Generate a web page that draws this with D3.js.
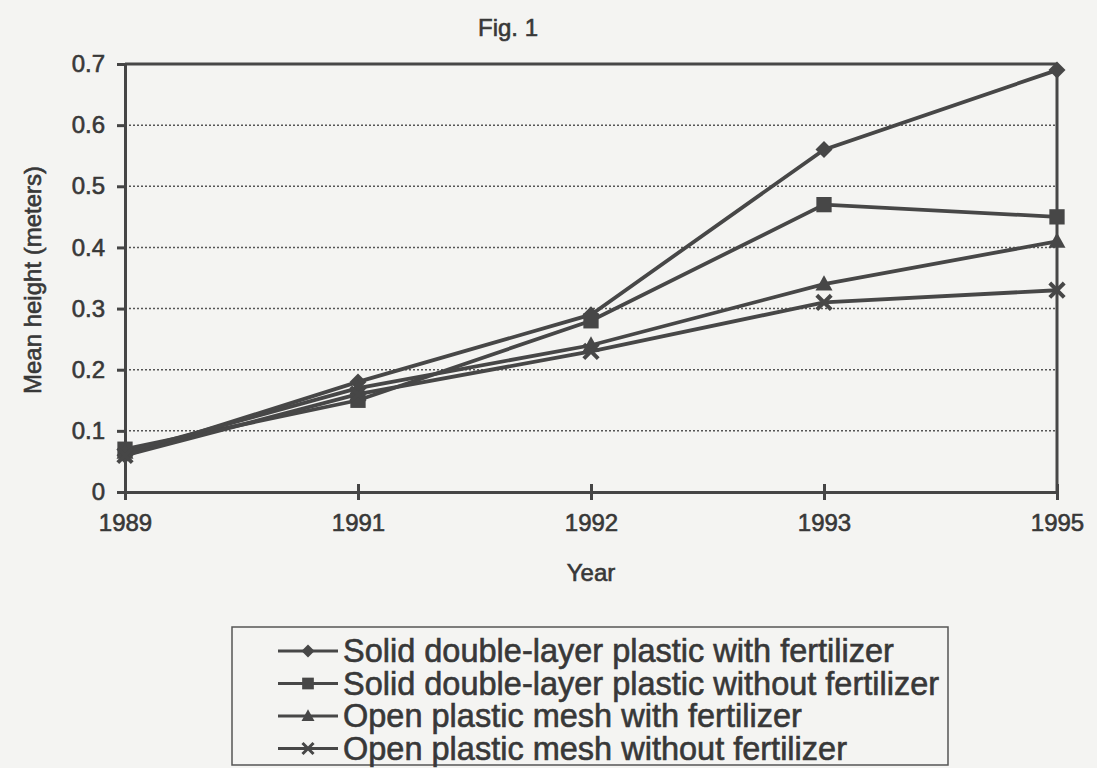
<!DOCTYPE html>
<html>
<head>
<meta charset="utf-8">
<script src="https://cdn.jsdelivr.net/npm/d3@7"></script>
<style>
  body { margin: 0; background: #f4f4f2; }
  svg { font-family: "Liberation Sans", Arial, sans-serif; }
  .axis path, .axis line { stroke: #454545; }
  .axis text { fill: #383838; font-size: 24px; stroke: #383838; stroke-width: 0.6px; }
  .lbl { fill: #383838; stroke: #383838; stroke-width: 0.6px; }
</style>
</head>
<body>
<svg id="chart" width="1097" height="768"></svg>
<script>
const years = ["1989", "1991", "1992", "1993", "1995"];
const yTicks = [0, 0.1, 0.2, 0.3, 0.4, 0.5, 0.6, 0.7];
const seriesNames = [
  "Solid double-layer plastic with fertilizer",
  "Solid double-layer plastic without fertilizer",
  "Open plastic mesh with fertilizer",
  "Open plastic mesh without fertilizer"
];
const solidWithFert = [0.06, 0.18, 0.29, 0.56, 0.69];
const solidNoFert = [0.07, 0.15, 0.28, 0.47, 0.45];
const meshWithFert = [0.065, 0.17, 0.24, 0.34, 0.41];
const meshNoFert = [0.06, 0.16, 0.23, 0.31, 0.33];

const seriesValues = [solidWithFert, solidNoFert, meshWithFert, meshNoFert];
const symbols = ["diamond", "square", "triangle", "cross"];
const ink = "#474747";

const svg = d3.select("#chart");
const margin = { left: 125, right: 40, top: 64, bottom: 276 };
const width = 1097 - margin.left - margin.right;
const height = 768 - margin.top - margin.bottom;

const chart = svg.append("g")
  .attr("transform", "translate(" + margin.left + "," + margin.top + ")");

const xScale = d3.scalePoint().domain(years).range([0, width]);
const yScale = d3.scaleLinear().domain([0, 0.7]).range([height, 0]);

// dotted gridlines
chart.selectAll(".grid")
  .data(yTicks.filter(d => d > 0 && d < 0.7))
  .join("line")
  .attr("class", "grid")
  .attr("x1", 0).attr("x2", width)
  .attr("y1", d => yScale(d)).attr("y2", d => yScale(d))
  .attr("stroke", "#555")
  .attr("stroke-width", 1.5)
  .attr("stroke-dasharray", "2,2");

// frame top and right
chart.append("line").attr("x1", 0).attr("x2", width).attr("y1", 0).attr("y2", 0)
  .attr("stroke", ink).attr("stroke-width", 3);
chart.append("line").attr("x1", width).attr("x2", width).attr("y1", 0).attr("y2", height)
  .attr("stroke", ink).attr("stroke-width", 3);

const xAxis = chart.append("g")
  .attr("class", "axis")
  .attr("transform", "translate(0," + height + ")")
  .call(d3.axisBottom(xScale).tickSizeInner(8).tickSizeOuter(0).tickPadding(14));

const yAxis = chart.append("g")
  .attr("class", "axis")
  .call(d3.axisLeft(yScale).tickValues(yTicks)
    .tickFormat(d => d === 0 ? "0" : d3.format(".1f")(d))
    .tickSizeInner(8).tickSizeOuter(0).tickPadding(12));

xAxis.selectAll("path, line").attr("stroke-width", 3);
yAxis.selectAll("path, line").attr("stroke-width", 3);
xAxis.selectAll(".tick line").attr("y1", -8).attr("y2", 8);

// lines
const line = d3.line().x((d, i) => xScale(years[i])).y(d => yScale(d));

function symbolPath(kind, r) {
  if (kind === "diamond") return `M0,${-r}L${r},0L0,${r}L${-r},0Z`;
  if (kind === "square") return `M${-r * 0.9},${-r * 0.9}H${r * 0.9}V${r * 0.9}H${-r * 0.9}Z`;
  if (kind === "triangle") return `M0,${-r * 1.05}L${r},${r * 0.75}L${-r},${r * 0.75}Z`;
  const c = r * 0.85;
  return `M${-c},${-c}L${c},${c}M${-c},${c}L${c},${-c}`;
}

seriesValues.forEach((vals, si) => {
  chart.append("path")
    .datum(vals)
    .attr("fill", "none")
    .attr("stroke", ink)
    .attr("stroke-width", 3.8)
    .attr("d", line);

  chart.selectAll(".pt" + si)
    .data(vals)
    .join("path")
    .attr("class", "pt" + si)
    .attr("transform", (d, i) => "translate(" + xScale(years[i]) + "," + yScale(d) + ")")
    .attr("d", symbolPath(symbols[si], 8.5))
    .attr("fill", ink)
    .attr("stroke", symbols[si] === "cross" ? ink : "none")
    .attr("stroke-width", symbols[si] === "cross" ? 4 : 0);
});

// titles
svg.append("text").attr("class", "lbl").attr("x", 508).attr("y", 36).attr("text-anchor", "middle")
  .attr("font-size", 24).text("Fig. 1");
svg.append("text").attr("class", "lbl").attr("x", 591).attr("y", 581).attr("text-anchor", "middle")
  .attr("font-size", 24).text("Year");
svg.append("text").attr("class", "lbl")
  .attr("transform", "translate(41," + 280 + ") rotate(-90)")
  .attr("text-anchor", "middle")
  .attr("font-size", 24).text("Mean height (meters)");

// legend
const legend = svg.append("g").attr("transform", "translate(232,627)");
legend.append("rect").attr("width", 716).attr("height", 138)
  .attr("fill", "none").attr("stroke", "#555").attr("stroke-width", 1.5);

const rows = legend.selectAll(".lg")
  .data(seriesNames)
  .join("g")
  .attr("class", "lg")
  .attr("transform", (d, i) => "translate(0," + (24 + i * 32.5) + ")");

rows.append("line").attr("x1", 46).attr("x2", 106).attr("y1", 0).attr("y2", 0)
  .attr("stroke", ink).attr("stroke-width", 3.2);
rows.append("path")
  .attr("transform", "translate(76,0)")
  .attr("d", (d, i) => symbolPath(symbols[i], 6.5))
  .attr("fill", ink)
  .attr("stroke", (d, i) => symbols[i] === "cross" ? ink : "none")
  .attr("stroke-width", (d, i) => symbols[i] === "cross" ? 3 : 0);
rows.append("text").attr("class", "lbl").attr("x", 111).attr("y", 11)
  .attr("font-size", 32.5).text(d => d);
</script>
</body>
</html>
